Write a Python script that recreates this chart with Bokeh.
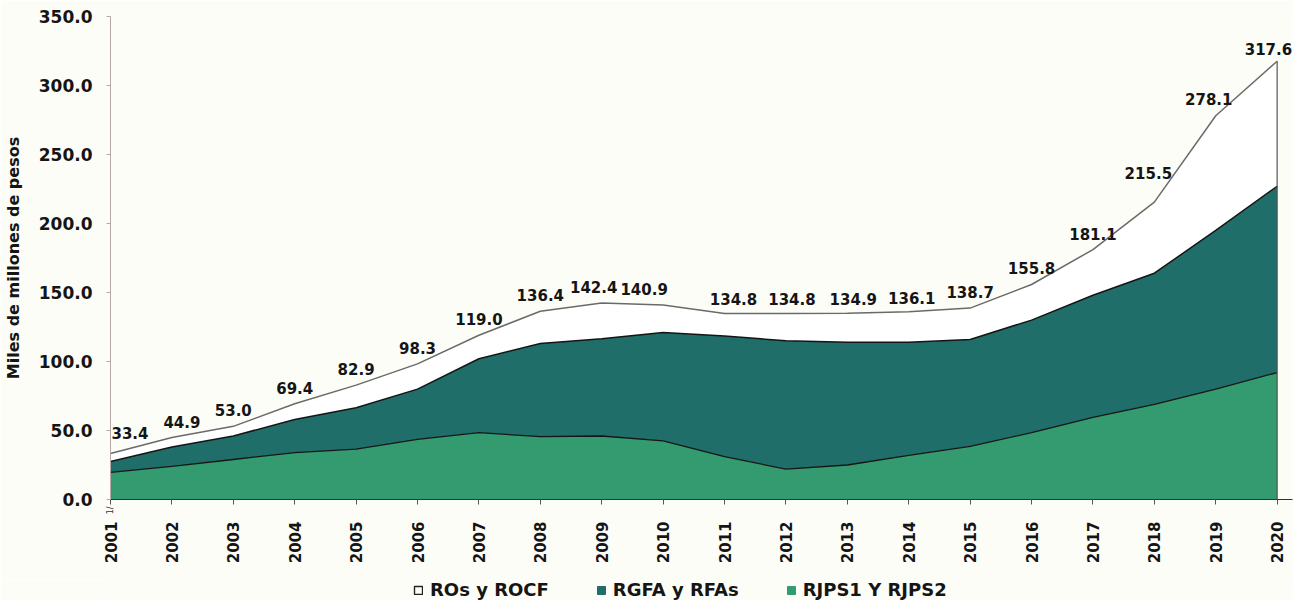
import math
from bokeh.plotting import figure
from bokeh.layouts import column
from bokeh.models import (ColumnDataSource, Legend, LegendItem, FixedTicker,
                          NumeralTickFormatter, Range1d,
                          LinearAxis, CustomJSTickFormatter)
from bokeh.core.properties import value
from bokeh.embed import file_html
from bokeh.resources import INLINE

years = list(range(2001, 2021))
rjps = [19.6, 24.0, 29.0, 34.0, 36.5, 43.5, 48.5, 45.5, 46.0, 42.5,
        31.0, 22.0, 25.0, 32.0, 38.5, 48.5, 59.5, 69.0, 80.0, 92.0]
rgfa = [7.9, 14.0, 17.0, 24.0, 30.0, 36.5, 53.5, 67.5, 70.5, 78.5,
        87.5, 93.0, 89.0, 82.0, 77.5, 81.5, 88.5, 95.0, 115.0, 135.0]
ros = [5.9, 6.9, 7.0, 11.4, 16.4, 18.3, 17.0, 23.4, 25.9, 19.9,
       16.3, 19.8, 20.9, 22.1, 22.7, 25.8, 33.1, 51.5, 83.1, 90.6]
footnote_year = 2001
footnote_text = "1/"

names = ["ROs y ROCF", "RGFA y RFAs", "RJPS1 Y RJPS2"]
colors = ["#ffffff", "#1f6e69", "#349a6f"]

FONT = "DejaVu Sans"
BG = "#fdfdf8"
INK = "#151515"

mid = [a + b for a, b in zip(rjps, rgfa)]
tot = [m + c for m, c in zip(mid, ros)]
src = ColumnDataSource(dict(year=years, rjps=rjps, rgfa=rgfa, ros=ros,
                            mid=mid, tot=tot))

p = figure(width=1293, height=580, output_backend="svg", toolbar_location=None,
           x_range=Range1d(years[0], years[-1] + 0.25), y_range=Range1d(0, 350),
           min_border_left=109, min_border_right=1, min_border_top=16,
           min_border_bottom=81)
p.background_fill_color = BG
p.border_fill_color = BG
p.outline_line_color = None
p.xgrid.visible = False
p.ygrid.visible = False

p.varea(x="year", y1=0, y2="rjps", source=src, fill_color=colors[2])
p.varea(x="year", y1="rjps", y2="mid", source=src, fill_color=colors[1])
p.varea(x="year", y1="mid", y2="tot", source=src, fill_color=colors[0])
p.line(x="year", y="rjps", source=src, line_color=INK, line_width=1.3)
p.line(x="year", y="mid", source=src, line_color=INK, line_width=1.5)
p.line(x="year", y="tot", source=src, line_color="#6a6a6a", line_width=1.5)
p.segment(x0=years[-1], y0=0, x1=years[-1], y1=tot[-1], line_color="#555555", line_width=1.2)

# data labels (pixel nudges per label; default: centred, 10px above the point)
nudge = {2001: (1, 14), 2002: (10, 10), 2009: (-8, 10), 2010: (-19, 10),
         2011: (9, 8), 2012: (6, 8), 2013: (6, 8), 2014: (3, 8),
         2018: (-6, 23), 2019: (-7, 11), 2020: (15, 6)}
dx = [nudge.get(y, (0, 10))[0] for y in years]
dy = [-nudge.get(y, (0, 10))[1] for y in years]
align = ["left"] + ["center"] * (len(years) - 2) + ["right"]
lsrc = ColumnDataSource(dict(year=years, tot=tot, lbl=["%.1f" % t for t in tot],
                             dx=dx, dy=dy, al=align))
p.text(x="year", y="tot", text="lbl", source=lsrc, x_offset="dx", y_offset="dy",
       text_align="al", text_baseline="bottom",
       text_font=value(FONT), text_font_style="bold", text_font_size="15px",
       text_color=INK)

# footnote axis (nearest to the frame) carries axis line, ticks and the "1/" mark
foot = LinearAxis(ticker=FixedTicker(ticks=years),
                  formatter=CustomJSTickFormatter(
                      code="return tick == %d ? '%s' : ''" % (footnote_year, footnote_text)),
                  major_label_orientation=math.pi / 2,
                  major_label_text_font=FONT, major_label_text_font_size="8px",
                  major_label_text_color="#333333", major_label_standoff=2,
                  axis_line_color="#333333", major_tick_line_color="#555555",
                  major_tick_out=5, major_tick_in=0, minor_tick_line_color=None)
main_x = p.xaxis[0]
main_x.ticker = FixedTicker(ticks=years)
main_x.formatter = NumeralTickFormatter(format="0")
main_x.major_label_orientation = math.pi / 2
main_x.major_label_text_font = FONT
main_x.major_label_text_font_style = "bold"
main_x.major_label_text_font_size = "15px"
main_x.major_label_text_color = INK
main_x.axis_line_color = None
main_x.major_tick_line_color = None
main_x.major_tick_out = 0
main_x.major_tick_in = 0
main_x.minor_tick_line_color = None
main_x.major_label_standoff = 4
p.below = [foot, main_x]

p.yaxis.ticker = FixedTicker(ticks=[0, 50, 100, 150, 200, 250, 300, 350])
p.yaxis.formatter = NumeralTickFormatter(format="0.0")
p.yaxis.major_label_text_font = FONT
p.yaxis.major_label_text_font_style = "bold"
p.yaxis.major_label_text_font_size = "17px"
p.yaxis.major_label_text_color = INK
p.yaxis.major_label_standoff = 14
p.yaxis.axis_line_color = "#b8a8a8"
p.yaxis.major_tick_line_color = "#b8a8a8"
p.yaxis.major_tick_out = 4
p.yaxis.major_tick_in = 0
p.yaxis.minor_tick_line_color = None
p.yaxis.axis_label = "Miles de millones de pesos"
p.yaxis.axis_label_text_font = FONT
p.yaxis.axis_label_text_font_style = "bold"
p.yaxis.axis_label_text_font_size = "16px"
p.yaxis.axis_label_text_color = INK
p.yaxis.axis_label_standoff = 13

# legend strip below the chart
p2 = figure(width=1293, height=20, output_backend="svg", toolbar_location=None,
            x_range=Range1d(0, 1), y_range=Range1d(0, 1), min_border=0)
p2.axis.visible = False
p2.xgrid.visible = False
p2.ygrid.visible = False
p2.outline_line_color = None
p2.background_fill_color = BG
p2.border_fill_color = BG
nan = float("nan")
g_t = p2.quad(left=nan, right=nan, top=nan, bottom=nan, fill_color=colors[0], line_color="#222222", line_width=1.4)
g_m = p2.quad(left=nan, right=nan, top=nan, bottom=nan, fill_color=colors[1], line_color=colors[1])
g_b = p2.quad(left=nan, right=nan, top=nan, bottom=nan, fill_color=colors[2], line_color=colors[2])
legend = Legend(items=[LegendItem(label=names[0], renderers=[g_t]),
                       LegendItem(label=names[1], renderers=[g_m]),
                       LegendItem(label=names[2], renderers=[g_b])],
                orientation="horizontal", location=(303, 0),
                label_text_font=FONT, label_text_font_style="bold",
                label_text_font_size="18px", label_text_color=INK,
                label_height=18, glyph_width=10, glyph_height=10,
                spacing=47, label_standoff=7,
                border_line_color=None, background_fill_alpha=0, margin=0, padding=1)
p2.add_layout(legend, "center")

open("out.html", "w").write(file_html(column(p, p2), INLINE))
